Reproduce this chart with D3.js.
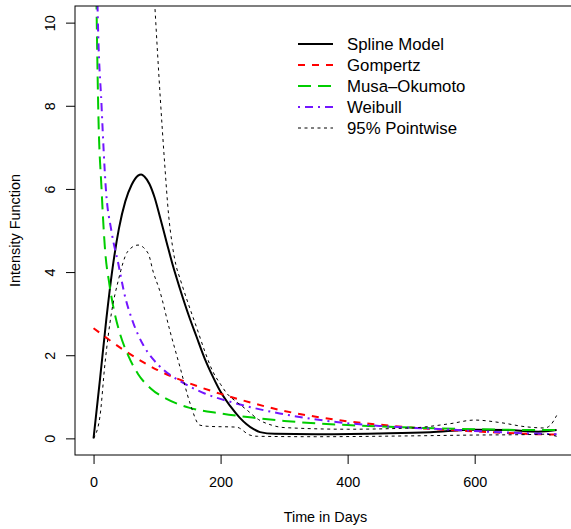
<!DOCTYPE html>
<html>
<head>
<meta charset="utf-8">
<script src="https://cdn.jsdelivr.net/npm/d3@7"></script>
<style>
  body { margin: 0; background: #fff; }
  svg { display: block; font-family: "Liberation Sans", Arial, Helvetica, sans-serif; }
</style>
</head>
<body>
<svg id="chart" width="571" height="529"></svg>
<script>
// Estimated curve values: [day, intensity]
const splineModel = [
    [0, 0], [10, 1.4], [20, 2.85], [30, 4.1], [40, 5.05], [50, 5.7], [60, 6.1],
    [70, 6.32], [75, 6.35], [80, 6.3], [88, 6.12], [96, 5.8], [105, 5.3],
    [115, 4.72], [125, 4.15], [136, 3.6], [150, 2.95], [162, 2.45], [175, 1.92],
    [188, 1.48], [200, 1.12], [215, 0.78], [230, 0.5], [241, 0.34], [252, 0.22],
    [262, 0.15], [285, 0.11], [350, 0.1], [450, 0.12], [530, 0.15], [600, 0.21],
    [650, 0.2], [700, 0.16], [729, 0.2]
];
const gompertz = [
    [0, 2.65], [50, 2.1], [100, 1.65], [150, 1.33], [200, 1.07], [250, 0.85],
    [300, 0.66], [350, 0.52], [400, 0.41], [450, 0.33], [500, 0.26], [550, 0.21],
    [600, 0.17], [650, 0.13], [700, 0.1], [729, 0.09]
];
const musaOkumoto = [
    [2, 14], [4.7, 10.4], [7.3, 8.0], [12.6, 6.0], [17.8, 4.6], [25, 3.7], [30, 3.25],
    [40, 2.6], [55, 1.98], [70, 1.55], [90, 1.2], [115, 0.95], [150, 0.74],
    [200, 0.6], [250, 0.5], [300, 0.42], [400, 0.32], [500, 0.26], [600, 0.22],
    [700, 0.2], [729, 0.2]
];
const weibull = [
    [3, 14], [6.3, 10.4], [12.6, 8.0], [19.4, 6.0], [28, 5.0], [39, 4.2], [49, 3.45],
    [62, 2.8], [78, 2.25], [94, 1.9], [110, 1.65], [136, 1.38], [175, 1.08],
    [215, 0.88], [250, 0.74], [293, 0.6], [367, 0.42], [450, 0.3], [550, 0.22],
    [650, 0.14], [729, 0.1]
];
const lowerBound = [
    [0, 0], [10, 0.52], [18, 1.8], [28, 3.0], [39, 3.8], [54, 4.5], [70, 4.65],
    [86, 4.45], [94, 4.0], [104, 3.56], [120, 2.6], [136, 1.72], [152, 0.84],
    [167, 0.32], [180, 0.29], [225, 0.27], [246, 0.08], [258, 0.05], [350, 0.04],
    [500, 0.06], [600, 0.08], [680, 0.09], [710, 0.1], [729, 0.05]
];
const upperBound = [
    [90, 12.2], [96.5, 10.4], [105, 8.2], [112, 6.6], [118, 5.4], [124, 4.65],
    [130, 4.15], [136, 3.85], [150, 3.2], [162, 2.68], [175, 2.1], [188, 1.6],
    [200, 1.3], [210, 1.08], [225, 0.88], [240, 0.7], [260, 0.45], [280, 0.32],
    [300, 0.26], [400, 0.22], [500, 0.25], [560, 0.35], [600, 0.44], [640, 0.38],
    [680, 0.28], [710, 0.25], [720, 0.33], [729, 0.55]
];

const xTicks = [0, 200, 400, 600];
const yTicks = [0, 2, 4, 6, 8, 10];

const legendNames = ["Spline Model", "Gompertz", "Musa\u2013Okumoto", "Weibull", "95% Pointwise"];

const series = [
    { data: splineModel, color: "#000000", width: 2, dash: null },
    { data: gompertz, color: "#ff0000", width: 2, dash: "7,7" },
    { data: musaOkumoto, color: "#00cd00", width: 2, dash: "13,7" },
    { data: weibull, color: "#7316ff", width: 2, dash: "2,5,8,5" },
    { data: lowerBound, color: "#000000", width: 1, dash: "3,3.5" },
    { data: upperBound, color: "#000000", width: 1, dash: "3,3.5" }
];

const svg = d3.select("#chart");

// plot box, same as R's 4% axis extension
const box = { left: 75, right: 575.8, top: 6, bottom: 455 };
const xPad = 730 * 0.04;
const x = d3.scaleLinear().domain([-xPad, 730 + xPad]).range([box.left, box.right]);
const y = d3.scaleLinear().domain([-0.4, 10.4]).range([box.bottom, box.top]);

svg.append("clipPath").attr("id", "clip")
    .append("rect")
    .attr("x", box.left).attr("y", box.top)
    .attr("width", box.right - box.left).attr("height", box.bottom - box.top);

const line = d3.line()
    .x(d => x(d[0]))
    .y(d => y(d[1]))
    .curve(d3.curveMonotoneX);

const plot = svg.append("g").attr("clip-path", "url(#clip)");

series.forEach(s => {
    plot.append("path")
        .attr("d", line(s.data))
        .attr("fill", "none")
        .attr("stroke", s.color)
        .attr("stroke-width", s.width)
        .attr("stroke-dasharray", s.dash);
});

// frame
svg.append("rect")
    .attr("x", box.left).attr("y", box.top)
    .attr("width", box.right - box.left).attr("height", box.bottom - box.top)
    .attr("fill", "none")
    .attr("stroke", "#000")
    .attr("stroke-width", 1);

// x axis
const xAxis = svg.append("g")
    .attr("transform", `translate(0,${box.bottom})`)
    .call(d3.axisBottom(x).tickValues(xTicks).tickSize(9).tickSizeOuter(0));
xAxis.select(".domain").remove();
xAxis.selectAll("text")
    .attr("y", 22)
    .attr("dy", "0.71em")
    .attr("font-size", "14.4px")
    .attr("font-family", "Liberation Sans, Arial, sans-serif")
    .attr("fill", "#000");

// y axis, labels turned like R's default
const yAxis = svg.append("g")
    .attr("transform", `translate(${box.left},0)`)
    .call(d3.axisLeft(y).tickValues(yTicks).tickSize(9).tickSizeOuter(0));
yAxis.select(".domain").remove();
yAxis.selectAll("text")
    .attr("x", 0)
    .attr("y", 0)
    .attr("dy", "0.35em")
    .attr("text-anchor", "middle")
    .attr("transform", "translate(-25,0) rotate(-90)")
    .attr("font-size", "14.4px")
    .attr("font-family", "Liberation Sans, Arial, sans-serif")
    .attr("fill", "#000");

// axis titles
svg.append("text")
    .attr("x", (box.left + box.right) / 2)
    .attr("y", 522)
    .attr("text-anchor", "middle")
    .attr("font-size", "14.4px")
    .text("Time in Days");

svg.append("text")
    .attr("transform", `translate(20,${(box.top + box.bottom) / 2}) rotate(-90)`)
    .attr("text-anchor", "middle")
    .attr("font-size", "14.4px")
    .text("Intensity Function");

// legend
const legend = svg.append("g");
legendNames.forEach((name, i) => {
    const s = series[i];
    const rowY = 44 + i * 21;
    legend.append("line")
        .attr("x1", 298).attr("x2", 333)
        .attr("y1", rowY).attr("y2", rowY)
        .attr("stroke", s.color)
        .attr("stroke-width", s.width)
        .attr("stroke-dasharray", s.dash);
    legend.append("text")
        .attr("x", 347)
        .attr("y", rowY + 6)
        .attr("font-size", "16.8px")
        .text(name);
});
</script>
</body>
</html>
